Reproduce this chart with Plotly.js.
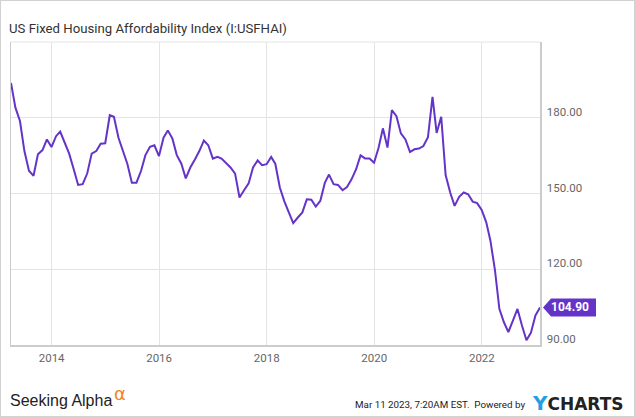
<!DOCTYPE html>
<html>
<head>
<meta charset="utf-8">
<script src="https://cdn.plot.ly/plotly-3.0.1.min.js"></script>
<style>
  html, body { margin: 0; padding: 0; background: #fff; }
  #wrap { position: relative; width: 635px; height: 417px; box-sizing: border-box; border: 1px solid #d2d2d2; }
  #chart { position: absolute; left: 0; top: 0; width: 633px; height: 415px; }
</style>
</head>
<body>
<div id="wrap"><div id="chart"></div></div>
<script>
// Monthly values (end of month)
const v2013 = [193.8, 184.0, 178.7, 166.8, 159.0, 157.0, 165.5, 167.2, 171.4, 168.4]; // Mar-Dec
const v2014 = [172.7, 174.5, 170.1, 165.8, 159.6, 153.4, 153.7, 158.0, 165.8, 166.8, 169.7, 169.9];
const v2015 = [181.0, 180.4, 172.1, 167.1, 161.6, 154.3, 154.3, 158.9, 165.2, 168.5, 169.1, 164.8];
const v2016 = [172.1, 175.0, 171.8, 165.2, 161.8, 156.0, 160.3, 163.5, 166.8, 171.0, 169.1, 163.8];
const v2017 = [164.5, 163.8, 162.0, 160.3, 157.9, 148.4, 151.3, 154.0, 160.3, 163.1, 161.2, 161.6];
const v2018 = [164.5, 161.8, 152.4, 147.0, 142.5, 138.3, 140.5, 142.5, 147.7, 147.5, 144.8, 147.1];
const v2019 = [154.3, 157.5, 153.7, 153.4, 151.3, 152.6, 155.6, 159.6, 165.1, 163.9, 163.9, 162.2];
const v2020 = [168.2, 175.8, 168.2, 183.0, 180.6, 173.8, 171.4, 166.4, 167.5, 167.8, 168.8, 172.3];
const v2021 = [188.3, 174.0, 180.4, 157.3, 150.4, 145.1, 148.7, 150.4, 149.7, 146.8, 146.2, 143.5];
const v2022 = [138.6, 131.4, 119.7, 104.3, 99.0, 95.1, 99.7, 104.3, 97.8, 91.9, 94.8, 101.7];
const v2023 = [104.9]; // Jan

const years = [
  {year: 2013, firstMonth: 3, values: v2013},
  {year: 2014, firstMonth: 1, values: v2014},
  {year: 2015, firstMonth: 1, values: v2015},
  {year: 2016, firstMonth: 1, values: v2016},
  {year: 2017, firstMonth: 1, values: v2017},
  {year: 2018, firstMonth: 1, values: v2018},
  {year: 2019, firstMonth: 1, values: v2019},
  {year: 2020, firstMonth: 1, values: v2020},
  {year: 2021, firstMonth: 1, values: v2021},
  {year: 2022, firstMonth: 1, values: v2022},
  {year: 2023, firstMonth: 1, values: v2023}
];

const yTicks = [90, 120, 150, 180];
const titleText = 'US Fixed Housing Affordability Index (I:USFHAI)';
const stampText = 'Mar 11 2023, 7:20AM EST.  Powered by';

function endOfMonth(y, m) {
  const d = new Date(Date.UTC(y, m, 0));
  return d.toISOString().slice(0, 10);
}

const xs = [], ys = [];
years.forEach(function (g) {
  g.values.forEach(function (v, k) {
    xs.push(endOfMonth(g.year, g.firstMonth + k));
    ys.push(v);
  });
});
const lastX = xs[xs.length - 1];
const lastY = ys[ys.length - 1];

const purple = '#6434c8';
const tickFont = {family: 'Roboto, sans-serif', size: 11.5, color: '#666'};

const trace = {
  x: xs, y: ys, type: 'scatter', mode: 'lines',
  line: {color: purple, width: 2},
  hoverinfo: 'skip'
};

const layout = {
  width: 633, height: 415,
  margin: {l: 10, r: 94, t: 41, b: 71},
  paper_bgcolor: '#fff', plot_bgcolor: '#fff',
  showlegend: false,
  title: {
    text: titleText,
    xref: 'container', yref: 'container',
    x: 8 / 633, xanchor: 'left',
    y: 1 - 27 / 415, yanchor: 'middle',
    font: {family: 'Roboto, sans-serif', size: 13.2, color: '#333'}
  },
  xaxis: {
    type: 'date',
    range: [xs[0], lastX],
    tick0: '2014-01-01', dtick: 'M24',
    tickformat: '%Y',
    showgrid: true, gridcolor: '#e4e4e4', gridwidth: 1,
    showline: true, linecolor: '#cccccc', linewidth: 1.5,
    ticks: '', ticklabelstandoff: 2,
    tickfont: tickFont,
    zeroline: false, fixedrange: true
  },
  yaxis: {
    side: 'right',
    range: [90, 210],
    tickvals: yTicks,
    tickformat: '.2f',
    showgrid: true, gridcolor: '#e4e4e4', gridwidth: 1,
    showline: true, mirror: true, linecolor: '#cccccc', linewidth: 1.5,
    ticks: '', ticklabelstandoff: 3, ticklabelshift: -6,
    tickfont: tickFont,
    zeroline: false, fixedrange: true
  },
  shapes: [
    {type: 'line', xref: 'paper', yref: 'paper', x0: 0, x1: 1, y0: 1, y1: 1,
     line: {color: '#e4e4e4', width: 1}},
    {type: 'path', xref: 'paper', yref: 'y',
     xsizemode: 'pixel', xanchor: 1, ysizemode: 'pixel', yanchor: lastY,
     path: 'M 3 0 L 11 9 L 56 9 L 56 -9 L 11 -9 Z',
     fillcolor: purple, line: {width: 0}, layer: 'above'}
  ],
  annotations: [
    {xref: 'paper', yref: 'y', x: 1, y: lastY, xanchor: 'center', yanchor: 'middle',
     xshift: 30, showarrow: false, text: lastY.toFixed(2),
     font: {family: 'Roboto, sans-serif', size: 12, color: '#fff', weight: 'bold'}},
    {xref: 'paper', yref: 'paper', x: (8 - 10.7) / 529.3, y: (345 - 400) / 303,
     xanchor: 'left', yanchor: 'middle', showarrow: false, text: 'Seeking Alpha',
     font: {family: '"Liberation Sans", Arial, sans-serif', size: 16, color: '#222'}},
    {xref: 'paper', yref: 'paper', x: (112 - 10.7) / 529.3, y: (345 - 393) / 303,
     xanchor: 'left', yanchor: 'middle', showarrow: false, text: 'α',
     font: {family: '"DejaVu Sans", sans-serif', size: 18, color: '#f5821f'}},
    {xref: 'paper', yref: 'paper', x: (527 - 10.7) / 529.3, y: (345 - 404) / 303,
     xanchor: 'right', yanchor: 'middle', showarrow: false, text: stampText,
     font: {family: 'Roboto, sans-serif', size: 9.8, color: '#222'}},
    {xref: 'paper', yref: 'paper', x: (626 - 10.7) / 529.3, y: (345 - 403) / 303,
     xanchor: 'right', yanchor: 'middle', showarrow: false,
     text: '<span style="color:#1ea0e3;font-size:20px">Y</span>CHARTS',
     font: {family: '"DejaVu Sans", sans-serif', size: 17, color: '#222', weight: 'bold'}}
  ]
};

Plotly.newPlot('chart', [trace], layout, {staticPlot: true, displayModeBar: false});
</script>
</body>
</html>
